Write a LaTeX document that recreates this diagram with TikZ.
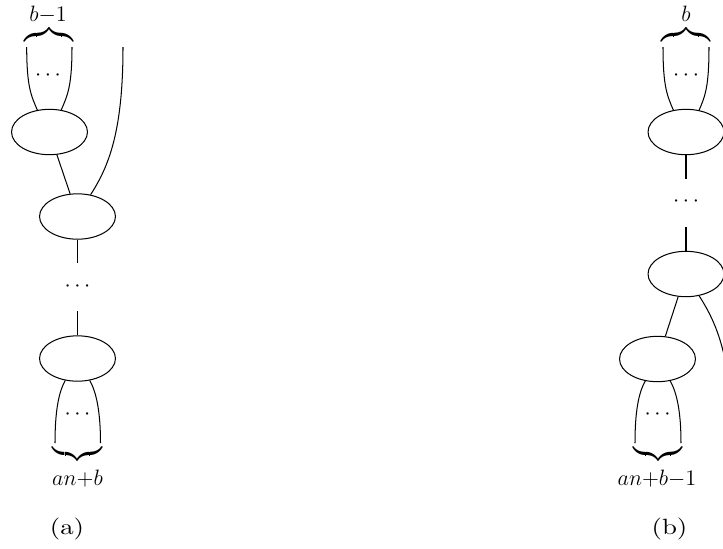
\documentclass[tikz,border=0pt]{standalone}
\usepackage{graphicx}
\usetikzlibrary{shapes.geometric}
\newcommand{\obr}{\scalebox{1.43}{\hbox to 18.6pt{\downbracefill}}}
\newcommand{\ubr}{\scalebox{1.43}{\hbox to 18.6pt{\upbracefill}}}
\newcommand{\capt}[1]{\scalebox{1.45}[1.19]{#1}}
\begin{document}
\begin{tikzpicture}[x=0.54pt,y=-0.54pt,
  line width=0.55pt,
  ell/.style={ellipse,draw,minimum width=41pt,minimum height=24.5pt,inner sep=0pt},
  brc/.style={inner sep=0pt},
  captxt/.style={anchor=base,inner sep=0pt},
  lbl/.style={anchor=base,inner sep=0pt,font=\fontsize{12.6}{15}\selectfont},
  dts/.style={inner sep=0pt,font=\fontsize{11.5}{14}\selectfont}]
\useasboundingbox (0,0) rectangle (723,549);
\clip (0,0) rectangle (723,549);

% ---------- (a) ----------
\node[ell] (e1) at (49.5,132) {};
\node[ell] (e2) at (77.5,216.5) {};
\node[ell] (e3) at (77.5,358.5) {};
\coordinate (ta1) at (26.7,47);
\coordinate (ta2) at (72,47);
\coordinate (ta3) at (123,47);
\coordinate (ma1) at (77.5,263);
\coordinate (ma2) at (77.5,311);
\coordinate (ba1) at (55,443);
\coordinate (ba2) at (100.5,443);
\draw (ta1) .. controls +(0,40) and +(-6,-14) .. (e1.119.6);
\draw (ta2) .. controls +(0,40) and +(6,-14) .. (e1.62.4);
\draw (ta3) .. controls +(0,85) and +(18,-28) .. (e2.59.8);
\draw (e1.-72) -- (e2.108.4);
\draw (e2.south) -- (ma1);
\draw (ma2) -- (e3.north);
\draw (e3.-119) .. controls +(-7,12) and +(0,-30) .. (ba1);
\draw (e3.-61) .. controls +(7,12) and +(0,-30) .. (ba2);
\node[dts] (da1) at (48,76) {$\cdots$};
\node[dts] (da2) at (77.5,287) {$\cdots$};
\node[dts] (da3) at (77.5,415) {$\cdots$};
\node[brc] (bra1) at (49,35) {\obr};
\node[lbl] (la1) at (48,21) {$b{-}1$};
\node[brc] (bra2) at (77.5,454) {\ubr};
\node[lbl] (la2) at (77.5,485) {$an{+}b$};
\node[captxt] (capa) at (67,534.5) {\capt{(a)}};

% ---------- (b) ----------
\node[ell] (e4) at (686,132) {};
\node[ell] (e5) at (686,274) {};
\node[ell] (e6) at (657.5,359) {};
\coordinate (tb1) at (663,47);
\coordinate (tb2) at (709,47);
\coordinate (mb1) at (686,179);
\coordinate (mb2) at (686,227);
\coordinate (bb1) at (635,443);
\coordinate (bb2) at (681,443);
\coordinate (bb3) at (732,443);
\draw (tb1) .. controls +(0,40) and +(-6,-14) .. (e4.120.6);
\draw (tb2) .. controls +(0,40) and +(6,-14) .. (e4.59.4);
\draw (e4.south) -- (mb1);
\draw (mb2) -- (e5.north);
\draw (e5.-109) -- (e6.71);
\draw (e5.-59.4) .. controls +(18,28) and +(0,-85) .. (bb3);
\draw (e6.-119.6) .. controls +(-7,12) and +(0,-30) .. (bb1);
\draw (e6.-60.4) .. controls +(7,12) and +(0,-30) .. (bb2);
\node[dts] (db1) at (686,76) {$\cdots$};
\node[dts] (db2) at (686,202) {$\cdots$};
\node[dts] (db3) at (657.5,415) {$\cdots$};
\node[brc] (brb1) at (686,35) {\obr};
\node[lbl] (lb1) at (686,21) {$b$};
\node[brc] (brb2) at (658,454) {\ubr};
\node[lbl] (lb2) at (657,485) {$an{+}b{-}1$};
\node[captxt] (capb) at (669.5,534.5) {\capt{(b)}};
\end{tikzpicture}
\end{document}
